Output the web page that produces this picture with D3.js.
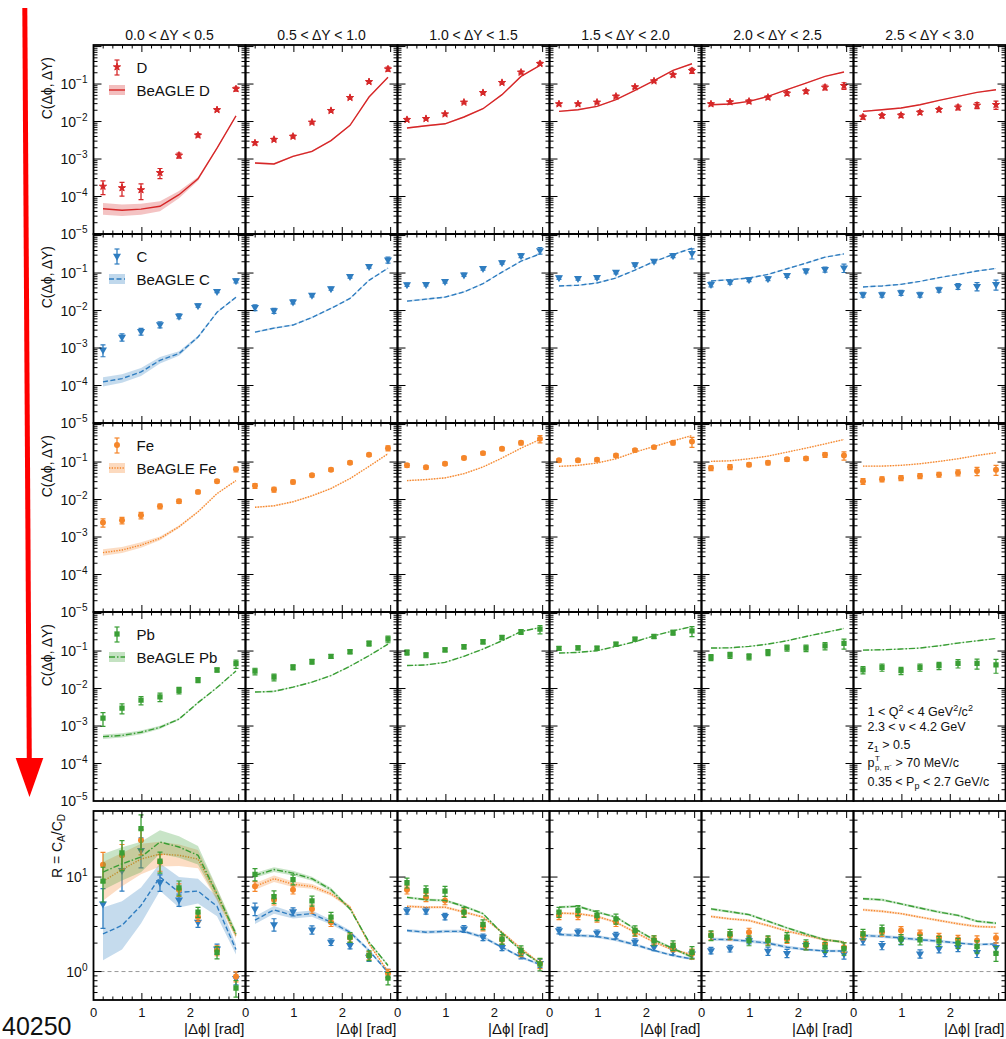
<!DOCTYPE html>
<html>
<head>
<meta charset="utf-8">
<script src="https://cdn.jsdelivr.net/npm/d3@7"></script>
<style>
  html, body { margin: 0; padding: 0; background: #fff; }
  svg { display: block; font-family: "Liberation Sans", Arial, Helvetica, sans-serif; }
</style>
</head>
<body>
<script>
// ---- bins and labels ----
const phiCenters = [0.196, 0.589, 0.982, 1.374, 1.767, 2.160, 2.553, 2.945];
const dyBins = ["0.0 < ΔY < 0.5", "0.5 < ΔY < 1.0", "1.0 < ΔY < 1.5", "1.5 < ΔY < 2.0", "2.0 < ΔY < 2.5", "2.5 < ΔY < 3.0"];
const xTickLabels = [0, 1, 2];
const corrTickLabels = [-1, -2, -3, -4, -5];
const ratioTickLabels = [1, 0];

// ---- correlation functions C(Δφ, ΔY), one array per ΔY bin ----
const corrD = [
  [1.86e-4, 1.7e-4, 1.5e-4, 4.3e-4, 1.25e-3, 4.3e-3, 0.0205, 0.074],
  [2.67e-3, 3.3e-3, 4.0e-3, 9.5e-3, 0.0195, 0.0433, 0.115, 0.251],
  [0.0112, 0.0119, 0.0158, 0.0325, 0.0587, 0.109, 0.205, 0.348],
  [0.0293, 0.0293, 0.0325, 0.0469, 0.0832, 0.12, 0.174, 0.227],
  [0.0293, 0.0331, 0.0345, 0.0441, 0.0564, 0.0637, 0.0815, 0.0903],
  [0.0132, 0.0143, 0.0146, 0.0175, 0.0207, 0.0239, 0.027, 0.0281]
];
const corrDErr = [
  [0.4, 0.4, 0.45, 0.3, 0.15, 0.1, 0.08, 0.12],
  [0.1, 0.08, 0.08, 0.07, 0.07, 0.07, 0.08, 0.12],
  [0.08, 0.07, 0.07, 0.07, 0.07, 0.07, 0.08, 0.1],
  [0.08, 0.07, 0.07, 0.08, 0.08, 0.08, 0.1, 0.15],
  [0.1, 0.1, 0.1, 0.1, 0.12, 0.12, 0.15, 0.2],
  [0.12, 0.12, 0.12, 0.12, 0.12, 0.15, 0.18, 0.25]
];
const beagleD = [
  [4.7e-5, 4.3e-5, 4.6e-5, 5.5e-5, 1.12e-4, 2.95e-4, 1.95e-3, 0.0142],
  [7.8e-4, 7.4e-4, 1.18e-3, 1.6e-3, 3.1e-3, 7.9e-3, 0.045, 0.151],
  [6.7e-3, 7.7e-3, 8.7e-3, 0.0132, 0.022, 0.052, 0.16, 0.315],
  [0.0187, 0.0207, 0.0254, 0.0382, 0.0678, 0.123, 0.231, 0.348],
  [0.0281, 0.0293, 0.0345, 0.0469, 0.0706, 0.106, 0.16, 0.209],
  [0.0187, 0.0207, 0.0229, 0.0281, 0.0366, 0.0469, 0.06, 0.0706]
];
const beagleDBand = [
  [1.43, 1.43, 1.4, 1.35, 1.25, 1.12, 1.05, 1.03],
  [1.06, 1.06, 1.05, 1.05, 1.04, 1.04, 1.03, 1.03],
  [1.05, 1.05, 1.04, 1.04, 1.04, 1.03, 1.03, 1.03],
  [1.04, 1.04, 1.04, 1.03, 1.03, 1.03, 1.03, 1.03],
  [1.04, 1.04, 1.04, 1.03, 1.03, 1.03, 1.03, 1.03],
  [1.04, 1.04, 1.04, 1.03, 1.03, 1.03, 1.03, 1.03]
];

const corrC = [
  [9.0e-4, 1.96e-3, 2.77e-3, 4.2e-3, 7.1e-3, 0.0136, 0.0326, 0.0625],
  [0.0121, 0.0099, 0.0171, 0.0257, 0.0386, 0.0816, 0.15, 0.225],
  [0.049, 0.0502, 0.060, 0.090, 0.133, 0.191, 0.293, 0.40],
  [0.0753, 0.0723, 0.0768, 0.106, 0.169, 0.207, 0.293, 0.338],
  [0.050, 0.0578, 0.0667, 0.0709, 0.0868, 0.115, 0.125, 0.138],
  [0.0267, 0.0267, 0.030, 0.0267, 0.0363, 0.0445, 0.0445, 0.050]
];
const corrCErr = [
  [0.35, 0.22, 0.2, 0.18, 0.15, 0.1, 0.08, 0.12],
  [0.18, 0.15, 0.12, 0.1, 0.1, 0.1, 0.1, 0.18],
  [0.1, 0.1, 0.1, 0.1, 0.1, 0.1, 0.12, 0.2],
  [0.1, 0.1, 0.1, 0.1, 0.1, 0.1, 0.12, 0.3],
  [0.15, 0.12, 0.12, 0.12, 0.12, 0.12, 0.15, 0.25],
  [0.15, 0.15, 0.15, 0.15, 0.15, 0.18, 0.25, 0.3]
];
const beagleC = [
  [1.25e-4, 1.53e-4, 2.3e-4, 4.7e-4, 7.1e-4, 1.96e-3, 9.0e-3, 0.0226],
  [2.65e-3, 3.4e-3, 4.1e-3, 6.5e-3, 0.0114, 0.021, 0.064, 0.135],
  [0.0178, 0.0201, 0.0227, 0.0315, 0.052, 0.106, 0.207, 0.324],
  [0.0453, 0.0472, 0.0544, 0.0738, 0.12, 0.203, 0.311, 0.458],
  [0.0615, 0.0667, 0.0738, 0.092, 0.130, 0.184, 0.265, 0.324],
  [0.0426, 0.0453, 0.050, 0.060, 0.0753, 0.092, 0.113, 0.133]
];
const beagleCBand = [
  [1.32, 1.3, 1.28, 1.22, 1.15, 1.08, 1.05, 1.04],
  [1.06, 1.06, 1.05, 1.05, 1.04, 1.04, 1.03, 1.03],
  [1.05, 1.05, 1.04, 1.04, 1.04, 1.03, 1.03, 1.03],
  [1.04, 1.04, 1.04, 1.03, 1.03, 1.03, 1.03, 1.03],
  [1.04, 1.04, 1.04, 1.03, 1.03, 1.03, 1.03, 1.03],
  [1.04, 1.04, 1.04, 1.03, 1.03, 1.03, 1.03, 1.03]
];

const corrFe = [
  [2.45e-3, 2.8e-3, 3.8e-3, 6.6e-3, 9.0e-3, 0.016, 0.0307, 0.0638],
  [0.0232, 0.0185, 0.0295, 0.0444, 0.0627, 0.096, 0.156, 0.235],
  [0.0816, 0.0723, 0.090, 0.128, 0.173, 0.225, 0.325, 0.415],
  [0.111, 0.111, 0.115, 0.150, 0.208, 0.25, 0.325, 0.352],
  [0.0693, 0.0738, 0.085, 0.096, 0.118, 0.125, 0.156, 0.15],
  [0.0308, 0.0348, 0.0377, 0.0426, 0.0462, 0.0522, 0.058, 0.0627]
];
const corrFeErr = [
  [0.25, 0.2, 0.2, 0.15, 0.12, 0.1, 0.1, 0.15],
  [0.15, 0.15, 0.12, 0.1, 0.1, 0.1, 0.1, 0.15],
  [0.12, 0.1, 0.1, 0.1, 0.1, 0.1, 0.12, 0.22],
  [0.1, 0.1, 0.1, 0.1, 0.1, 0.1, 0.12, 0.3],
  [0.15, 0.15, 0.12, 0.12, 0.12, 0.12, 0.15, 0.25],
  [0.18, 0.15, 0.15, 0.15, 0.15, 0.18, 0.25, 0.3]
];
const beagleFe = [
  [3.84e-4, 4.5e-4, 6.1e-4, 9.2e-4, 1.88e-3, 4.7e-3, 0.0144, 0.032],
  [6.2e-3, 6.8e-3, 8.7e-3, 0.0126, 0.0197, 0.0362, 0.0767, 0.166],
  [0.032, 0.0341, 0.0377, 0.049, 0.0738, 0.128, 0.235, 0.40],
  [0.0767, 0.0816, 0.094, 0.122, 0.184, 0.26, 0.367, 0.508],
  [0.104, 0.108, 0.122, 0.144, 0.184, 0.235, 0.305, 0.40],
  [0.078, 0.078, 0.0816, 0.090, 0.104, 0.122, 0.150, 0.177]
];
const beagleFeBand = [
  [1.22, 1.2, 1.18, 1.12, 1.08, 1.05, 1.04, 1.03],
  [1.05, 1.05, 1.05, 1.04, 1.04, 1.03, 1.03, 1.03],
  [1.04, 1.04, 1.04, 1.04, 1.03, 1.03, 1.03, 1.03],
  [1.04, 1.04, 1.03, 1.03, 1.03, 1.03, 1.03, 1.03],
  [1.04, 1.04, 1.03, 1.03, 1.03, 1.03, 1.03, 1.03],
  [1.04, 1.04, 1.03, 1.03, 1.03, 1.03, 1.03, 1.03]
];

const corrPb = [
  [1.63e-3, 3.0e-3, 4.9e-3, 6.0e-3, 9.0e-3, 0.017, 0.0313, 0.046],
  [0.029, 0.0201, 0.037, 0.0522, 0.0723, 0.096, 0.160, 0.208],
  [0.092, 0.078, 0.108, 0.130, 0.177, 0.23, 0.325, 0.383],
  [0.118, 0.122, 0.12, 0.153, 0.208, 0.245, 0.312, 0.345],
  [0.068, 0.078, 0.0708, 0.092, 0.122, 0.12, 0.138, 0.16],
  [0.0314, 0.037, 0.030, 0.037, 0.041, 0.047, 0.047, 0.0426]
];
const corrPbErr = [
  [0.4, 0.3, 0.25, 0.25, 0.2, 0.15, 0.12, 0.25],
  [0.2, 0.2, 0.15, 0.15, 0.12, 0.12, 0.15, 0.2],
  [0.15, 0.15, 0.12, 0.12, 0.12, 0.12, 0.15, 0.25],
  [0.12, 0.12, 0.12, 0.12, 0.12, 0.12, 0.15, 0.3],
  [0.18, 0.18, 0.18, 0.18, 0.18, 0.2, 0.22, 0.3],
  [0.22, 0.22, 0.22, 0.22, 0.22, 0.25, 0.3, 0.4]
];
const beaglePb = [
  [5.2e-4, 5.6e-4, 6.8e-4, 9.2e-4, 1.53e-3, 4.2e-3, 0.0106, 0.0294],
  [8.05e-3, 8.4e-3, 0.0109, 0.0148, 0.0222, 0.0393, 0.0752, 0.153],
  [0.041, 0.0426, 0.050, 0.0723, 0.113, 0.188, 0.332, 0.423],
  [0.0885, 0.092, 0.102, 0.133, 0.177, 0.255, 0.345, 0.45],
  [0.12, 0.122, 0.133, 0.153, 0.188, 0.245, 0.312, 0.40],
  [0.106, 0.108, 0.113, 0.12, 0.138, 0.163, 0.188, 0.216]
];
const beaglePbBand = [
  [1.15, 1.14, 1.12, 1.1, 1.06, 1.05, 1.04, 1.03],
  [1.05, 1.05, 1.04, 1.04, 1.04, 1.03, 1.03, 1.03],
  [1.04, 1.04, 1.04, 1.03, 1.03, 1.03, 1.03, 1.03],
  [1.04, 1.04, 1.03, 1.03, 1.03, 1.03, 1.03, 1.03],
  [1.04, 1.04, 1.03, 1.03, 1.03, 1.03, 1.03, 1.03],
  [1.04, 1.04, 1.03, 1.03, 1.03, 1.03, 1.03, 1.03]
];

// ---- ratios R = C_A / C_D ----
const ratioC = [
  [5.2, 11.8, 19.2, 8.8, 5.75, 3.33, 1.74, 0.85],
  [4.6, 3.15, 4.3, 2.77, 2.05, 1.89, 1.42, 0.96],
  [4.4, 4.4, 3.83, 2.83, 2.31, 1.81, 1.51, 1.22],
  [2.72, 2.61, 2.55, 2.41, 2.05, 1.81, 1.67, 1.54],
  [1.67, 1.75, 2.13, 1.65, 1.56, 1.89, 1.6, 1.54],
  [2.13, 1.89, 2.13, 1.54, 1.75, 1.81, 1.6, 1.81]
];
const ratioCErr = [
  [0.45, 0.4, 0.35, 0.2, 0.15, 0.12, 0.12, 0.15],
  [0.15, 0.15, 0.1, 0.1, 0.08, 0.08, 0.1, 0.1],
  [0.08, 0.08, 0.08, 0.08, 0.08, 0.08, 0.1, 0.1],
  [0.08, 0.08, 0.08, 0.08, 0.08, 0.08, 0.1, 0.1],
  [0.08, 0.08, 0.08, 0.1, 0.1, 0.1, 0.1, 0.12],
  [0.1, 0.1, 0.1, 0.1, 0.1, 0.1, 0.12, 0.12]
];
const ratioFe = [
  [13.5, 17, 24.5, 14.4, 7.35, 3.77, 1.67, 0.885],
  [8.0, 5.75, 7.35, 4.6, 3.33, 2.28, 1.48, 0.96],
  [7.35, 6.1, 5.66, 4.26, 3.0, 2.17, 1.6, 1.22],
  [3.93, 3.93, 3.71, 3.33, 2.61, 2.17, 1.81, 1.54],
  [2.41, 2.41, 2.61, 2.13, 2.2, 1.89, 1.96, 1.81],
  [2.41, 2.61, 2.72, 2.5, 2.31, 2.2, 2.13, 2.27]
];
const ratioFeErr = [
  [0.35, 0.3, 0.3, 0.2, 0.15, 0.1, 0.12, 0.12],
  [0.12, 0.12, 0.1, 0.1, 0.1, 0.1, 0.1, 0.1],
  [0.1, 0.1, 0.1, 0.1, 0.1, 0.1, 0.1, 0.12],
  [0.1, 0.1, 0.1, 0.1, 0.1, 0.1, 0.1, 0.12],
  [0.1, 0.1, 0.1, 0.1, 0.1, 0.1, 0.1, 0.12],
  [0.1, 0.1, 0.1, 0.1, 0.1, 0.1, 0.12, 0.12]
];
const ratioPb = [
  [9.07, 18, 32.5, 14.7, 7.7, 4.26, 1.6, 0.67],
  [10.7, 6.2, 9.4, 5.6, 3.77, 2.31, 1.48, 0.85],
  [8.7, 7.2, 7.1, 4.26, 3.15, 2.2, 1.67, 1.2],
  [4.26, 4.44, 3.93, 3.61, 2.72, 2.13, 1.89, 1.6],
  [2.41, 2.5, 2.13, 2.13, 2.31, 1.93, 1.81, 1.75],
  [2.5, 2.77, 2.2, 2.17, 2.1, 2.0, 1.84, 1.56]
];
const ratioPbErr = [
  [0.4, 0.35, 0.4, 0.25, 0.18, 0.12, 0.15, 0.2],
  [0.15, 0.15, 0.12, 0.12, 0.12, 0.12, 0.12, 0.15],
  [0.12, 0.12, 0.12, 0.12, 0.12, 0.12, 0.12, 0.15],
  [0.12, 0.12, 0.12, 0.12, 0.12, 0.12, 0.12, 0.15],
  [0.12, 0.12, 0.12, 0.12, 0.12, 0.12, 0.12, 0.15],
  [0.12, 0.12, 0.12, 0.12, 0.12, 0.12, 0.15, 0.18]
];
const ratioBeagleC = [
  [2.5, 3.08, 5.0, 10, 6.9, 7.1, 4.9, 1.71],
  [3.5, 4.5, 3.93, 4.1, 3.33, 2.61, 1.67, 0.98],
  [2.72, 2.61, 2.66, 2.66, 2.31, 1.81, 1.42, 1.19],
  [2.47, 2.41, 2.35, 2.17, 1.93, 1.67, 1.48, 1.36],
  [2.2, 2.17, 2.1, 2.0, 1.81, 1.71, 1.65, 1.65],
  [2.41, 2.35, 2.27, 2.17, 2.1, 2.0, 1.93, 1.96]
];
const ratioBeagleCBand = [
  [1.9, 1.8, 1.55, 1.4, 1.45, 1.35, 1.27, 1.13],
  [1.1, 1.1, 1.08, 1.08, 1.06, 1.05, 1.04, 1.03],
  [1.04, 1.04, 1.04, 1.04, 1.04, 1.03, 1.03, 1.03],
  [1.04, 1.04, 1.04, 1.04, 1.04, 1.03, 1.03, 1.03],
  [1.04, 1.04, 1.04, 1.04, 1.04, 1.03, 1.03, 1.03],
  [1.04, 1.04, 1.04, 1.04, 1.04, 1.03, 1.03, 1.03]
];
const ratioBeagleFe = [
  [9.0, 12.0, 15.5, 17.5, 17.0, 15.5, 6.5, 2.4],
  [7.95, 9.6, 8.4, 7.95, 6.65, 4.8, 1.96, 1.0],
  [4.9, 4.8, 4.8, 4.26, 3.77, 2.61, 1.75, 1.22],
  [4.15, 4.1, 3.83, 3.33, 2.61, 2.05, 1.7, 1.51],
  [3.83, 3.61, 3.47, 3.07, 2.68, 2.41, 2.17, 2.05],
  [4.5, 4.34, 4.1, 3.77, 3.47, 3.2, 3.0, 2.95]
];
const ratioBeagleFeBand = [
  [1.6, 1.5, 1.45, 1.35, 1.3, 1.25, 1.15, 1.08],
  [1.08, 1.08, 1.07, 1.06, 1.05, 1.04, 1.03, 1.03],
  [1.03, 1.03, 1.03, 1.03, 1.03, 1.03, 1.03, 1.03],
  [1.03, 1.03, 1.03, 1.03, 1.03, 1.03, 1.03, 1.03],
  [1.03, 1.03, 1.03, 1.03, 1.03, 1.03, 1.03, 1.03],
  [1.03, 1.03, 1.03, 1.03, 1.03, 1.03, 1.03, 1.03]
];
const ratioBeaglePb = [
  [11.3, 13.8, 16.3, 23.5, 20.8, 17, 6.65, 2.5],
  [10.4, 12.0, 11.0, 9.6, 7.35, 4.6, 2.05, 1.16],
  [6.1, 5.75, 5.66, 4.9, 4.1, 2.55, 1.67, 1.22],
  [4.8, 4.9, 4.26, 3.77, 2.83, 2.17, 1.75, 1.42],
  [4.6, 4.3, 4.0, 3.41, 2.9, 2.5, 2.17, 2.05],
  [5.9, 5.75, 5.2, 4.7, 4.26, 3.93, 3.41, 3.25]
];
const ratioBeaglePbBand = [
  [1.55, 1.5, 1.45, 1.33, 1.3, 1.25, 1.15, 1.08],
  [1.06, 1.06, 1.06, 1.05, 1.05, 1.04, 1.03, 1.03],
  [1.03, 1.03, 1.03, 1.03, 1.03, 1.03, 1.03, 1.03],
  [1.03, 1.03, 1.03, 1.03, 1.03, 1.03, 1.03, 1.03],
  [1.03, 1.03, 1.03, 1.03, 1.03, 1.03, 1.03, 1.03],
  [1.03, 1.03, 1.03, 1.03, 1.03, 1.03, 1.03, 1.03]
];

// ---- per-nucleus drawing styles ----
const nuclei = [
  { name: "D",  color: "#d62728", dash: null,          symbol: d3.symbolStar,     rotate: 0,   size: 16, data: corrD,  err: corrDErr,  model: beagleD,  band: beagleDBand },
  { name: "C",  color: "#2f7dc0", dash: "5,2.5",       symbol: d3.symbolTriangle, rotate: 180, size: 28, data: corrC,  err: corrCErr,  model: beagleC,  band: beagleCBand,
    ratio: ratioC, ratioErr: ratioCErr, ratioModel: ratioBeagleC, ratioBand: ratioBeagleCBand },
  { name: "Fe", color: "#f5862a", dash: "1.3,1.4",     symbol: d3.symbolCircle,   rotate: 0,   size: 28, data: corrFe, err: corrFeErr, model: beagleFe, band: beagleFeBand,
    ratio: ratioFe, ratioErr: ratioFeErr, ratioModel: ratioBeagleFe, ratioBand: ratioBeagleFeBand },
  { name: "Pb", color: "#3a9e35", dash: "6,2,1.5,2",   symbol: d3.symbolSquare,   rotate: 0,   size: 28, data: corrPb, err: corrPbErr, model: beaglePb, band: beaglePbBand,
    ratio: ratioPb, ratioErr: ratioPbErr, ratioModel: ratioBeaglePb, ratioBand: ratioBeaglePbBand }
];

// ---- layout ----
const W = 1006, H = 1039;
const colX0 = 93.5, colW = 152;
const rowTops = [45, 234, 423, 612];
const rowH = 189;
const ratioTop = 811;

const svg = d3.select("body").append("svg").attr("width", W).attr("height", H);

const x = d3.scaleLinear().domain([0, Math.PI]).range([0, colW]);
const yCorr = d3.scaleLog().domain([1e-5, 1.1]).range([rowH, 0]);
const yRatio = d3.scaleLog().domain([0.5, 50]).range([rowH, 0]);

const defs = svg.append("defs");
defs.append("clipPath").attr("id", "panelClip")
  .append("rect").attr("x", 0).attr("y", 0).attr("width", colW).attr("height", rowH);

function symbolPath(n) {
  return d3.symbol().type(n.symbol).size(n.size)();
}

function drawModel(g, n, model, band, y) {
  const idx = d3.range(model.length);
  const clip = g.append("g").attr("clip-path", "url(#panelClip)");
  const area = d3.area()
    .x(i => x(phiCenters[i]))
    .y0(i => y(model[i] / band[i]))
    .y1(i => y(model[i] * band[i]));
  clip.append("path").attr("d", area(idx))
    .attr("fill", n.color).attr("fill-opacity", 0.28).attr("stroke", "none");
  const line = d3.line().x(i => x(phiCenters[i])).y(i => y(model[i]));
  clip.append("path").attr("d", line(idx))
    .attr("fill", "none").attr("stroke", n.color).attr("stroke-width", 1.4)
    .attr("stroke-dasharray", n.dash);
  return clip;
}

function drawPoints(clip, n, vals, errs, y) {
  const pts = clip.append("g");
  vals.forEach((v, i) => {
    const cx = x(phiCenters[i]);
    const lo = y(v * (1 - errs[i]));
    const hi = y(v * (1 + errs[i]));
    pts.append("line").attr("x1", cx).attr("x2", cx).attr("y1", lo).attr("y2", hi)
      .attr("stroke", n.color).attr("stroke-width", 1.3);
    [lo, hi].forEach(yy => pts.append("line").attr("x1", cx - 2.5).attr("x2", cx + 2.5)
      .attr("y1", yy).attr("y2", yy).attr("stroke", n.color).attr("stroke-width", 1.2));
    pts.append("path").attr("d", symbolPath(n))
      .attr("transform", `translate(${cx},${y(v)}) rotate(${n.rotate})`)
      .attr("fill", n.color).attr("stroke", n.color).attr("stroke-width", n.name === "D" ? 1 : 0);
  });
}

function drawFrame(g, y) {
  const fr = g.append("g").attr("stroke", "#000");
  // y ticks on both sides, pointing inwards
  y.ticks().forEach(v => {
    const m = Math.round(v / Math.pow(10, Math.floor(Math.log10(v) + 1e-9)));
    const len = m === 1 ? 8 : 4;
    const yy = y(v);
    if (yy < 0.5 || yy > rowH - 0.5) return;
    fr.append("line").attr("x1", 0).attr("x2", len).attr("y1", yy).attr("y2", yy).attr("stroke-width", 1);
    fr.append("line").attr("x1", colW - len).attr("x2", colW).attr("y1", yy).attr("y2", yy).attr("stroke-width", 1);
  });
  // x ticks top and bottom
  d3.range(0, 16).map(k => k * 0.2).filter(v => v < Math.PI).forEach(v => {
    const isMajor = Math.abs(v - Math.round(v)) < 1e-6;
    const len = isMajor ? 7 : 3.5;
    const xx = x(v);
    if (xx < 0.5) return;
    fr.append("line").attr("x1", xx).attr("x2", xx).attr("y1", rowH).attr("y2", rowH - len).attr("stroke-width", 1);
    fr.append("line").attr("x1", xx).attr("x2", xx).attr("y1", 0).attr("y2", len).attr("stroke-width", 1);
  });
  g.append("rect").attr("x", 0).attr("y", 0).attr("width", colW).attr("height", rowH)
    .attr("fill", "none").attr("stroke", "#000").attr("stroke-width", 1.8);
}

function supLabel(parent, xPos, yPos, base, exp, size) {
  const t = parent.append("text").attr("x", xPos).attr("y", yPos)
    .attr("text-anchor", "end").attr("font-size", size).attr("fill", "#111");
  t.append("tspan").text(base);
  t.append("tspan").attr("dy", -6).attr("font-size", size * 0.72).text(exp);
  return t;
}

// ---- correlation rows ----
nuclei.forEach((n, r) => {
  const top = rowTops[r];
  dyBins.forEach((lab, c) => {
    const g = svg.append("g").attr("transform", `translate(${colX0 + c * colW},${top})`);
    const clip = drawModel(g, n, n.model[c], n.band[c], yCorr);
    drawPoints(clip, n, n.data[c], n.err[c], yCorr);
    drawFrame(g, yCorr);
  });
  // y tick labels
  corrTickLabels.forEach(e => {
    supLabel(svg, colX0 - 6, top + yCorr(Math.pow(10, e)) + 5, "10", "−" + Math.abs(e), 14);
  });
  // y title
  svg.append("text")
    .attr("transform", `translate(52,${top + 12}) rotate(-90)`)
    .attr("text-anchor", "end").attr("font-size", 14).attr("fill", "#111")
    .text("C(Δϕ, ΔY)");
  // legend
  const lg = svg.append("g").attr("transform", `translate(${colX0},${top})`);
  const lx = 23.5;
  lg.append("line").attr("x1", lx).attr("x2", lx).attr("y1", 15).attr("y2", 30).attr("stroke", n.color).attr("stroke-width", 1.3);
  [15, 30].forEach(yy => lg.append("line").attr("x1", lx - 2.5).attr("x2", lx + 2.5).attr("y1", yy).attr("y2", yy).attr("stroke", n.color).attr("stroke-width", 1.2));
  lg.append("path").attr("d", symbolPath(n))
    .attr("transform", `translate(${lx},22) rotate(${n.rotate})`)
    .attr("fill", n.color).attr("stroke", n.color).attr("stroke-width", n.name === "D" ? 1 : 0);
  lg.append("text").attr("x", 43).attr("y", 27.5).attr("font-size", 15).attr("fill", "#111").text(n.name);
  lg.append("rect").attr("x", 15.5).attr("y", 40).attr("width", 16).attr("height", 10)
    .attr("fill", n.color).attr("fill-opacity", 0.3);
  lg.append("line").attr("x1", 15.5).attr("x2", 31.5).attr("y1", 45).attr("y2", 45)
    .attr("stroke", n.color).attr("stroke-width", 1.4).attr("stroke-dasharray", n.dash);
  lg.append("text").attr("x", 43).attr("y", 50.5).attr("font-size", 15).attr("fill", "#111").text("BeAGLE " + n.name);
});

// column titles
dyBins.forEach((lab, c) => {
  svg.append("text").attr("x", colX0 + c * colW + colW / 2).attr("y", 40)
    .attr("text-anchor", "middle").attr("font-size", 14).attr("fill", "#111").text(lab);
});

// ---- ratio row ----
dyBins.forEach((lab, c) => {
  const g = svg.append("g").attr("transform", `translate(${colX0 + c * colW},${ratioTop})`);
  g.append("line").attr("x1", 0).attr("x2", colW).attr("y1", yRatio(1)).attr("y2", yRatio(1))
    .attr("stroke", "#999").attr("stroke-width", 1).attr("stroke-dasharray", "4,3");
  const ratioNuclei = nuclei.slice(1);
  const clips = ratioNuclei.map(n => drawModel(g, n, n.ratioModel[c], n.ratioBand[c], yRatio));
  ratioNuclei.forEach((n, k) => drawPoints(clips[k], n, n.ratio[c], n.ratioErr[c], yRatio));
  drawFrame(g, yRatio);
  // x tick labels
  xTickLabels.forEach(v => {
    svg.append("text").attr("x", colX0 + c * colW + x(v)).attr("y", 1016.5)
      .attr("text-anchor", "middle").attr("font-size", 13).attr("fill", "#111").text(v);
  });
  svg.append("text").attr("x", colX0 + (c + 1) * colW - 1).attr("y", 1034)
    .attr("text-anchor", "end").attr("font-size", 15).attr("fill", "#111").text("|Δϕ| [rad]");
});
ratioTickLabels.forEach(e => {
  supLabel(svg, colX0 - 6, ratioTop + yRatio(Math.pow(10, e)) + 5, "10", String(e), 14);
});
{
  const t = svg.append("text")
    .attr("transform", `translate(62,${ratioTop + 3}) rotate(-90)`)
    .attr("text-anchor", "end").attr("font-size", 14).attr("fill", "#111");
  t.append("tspan").text("R = C");
  t.append("tspan").attr("font-size", 10).attr("dy", 3).text("A");
  t.append("tspan").attr("dy", -3).text("/C");
  t.append("tspan").attr("font-size", 10).attr("dy", 3).text("D");
}

// ---- selection text ----
{
  const bx = colX0 + 5 * colW + 14, fs = 12.5;
  const box = svg.append("g").attr("font-size", fs).attr("fill", "#111");
  const l1 = box.append("text").attr("x", bx).attr("y", 716);
  l1.append("tspan").text("1 < Q");
  l1.append("tspan").attr("dy", -5).attr("font-size", 9).text("2");
  l1.append("tspan").attr("dy", 5).text(" < 4 GeV");
  l1.append("tspan").attr("dy", -5).attr("font-size", 9).text("2");
  l1.append("tspan").attr("dy", 5).text("/c");
  l1.append("tspan").attr("dy", -5).attr("font-size", 9).text("2");
  box.append("text").attr("x", bx).attr("y", 731).text("2.3 < ν < 4.2 GeV");
  const l3 = box.append("text").attr("x", bx).attr("y", 748.5);
  l3.append("tspan").text("z");
  l3.append("tspan").attr("dy", 3).attr("font-size", 9).text("1");
  l3.append("tspan").attr("dy", -3).text(" > 0.5");
  const y4 = 766.5;
  box.append("text").attr("x", bx).attr("y", y4).text("p");
  box.append("text").attr("x", bx + 7.5).attr("y", y4 - 6).attr("font-size", 8).text("T");
  box.append("text").attr("x", bx + 7.5).attr("y", y4 + 3.5).attr("font-size", 8).text("p, π⁻");
  box.append("text").attr("x", bx + 28).attr("y", y4).text("> 70 MeV/c");
  const l5 = box.append("text").attr("x", bx).attr("y", 786);
  l5.append("tspan").text("0.35 < P");
  l5.append("tspan").attr("dy", 3).attr("font-size", 9).text("p");
  l5.append("tspan").attr("dy", -3).text(" < 2.7 GeV/c");
}

// ---- run number and red arrow ----
svg.append("text").attr("x", 2).attr("y", 1035).attr("font-size", 25).attr("fill", "#111").text("40250");
svg.append("line").attr("x1", 24.8).attr("y1", 8).attr("x2", 29.3).attr("y2", 762)
  .attr("stroke", "#ff0000").attr("stroke-width", 5);
svg.append("path").attr("d", d3.line()([[15.7, 758], [43.3, 758], [29.5, 797]]) + "Z")
  .attr("fill", "#ff0000");
</script>
</body>
</html>
